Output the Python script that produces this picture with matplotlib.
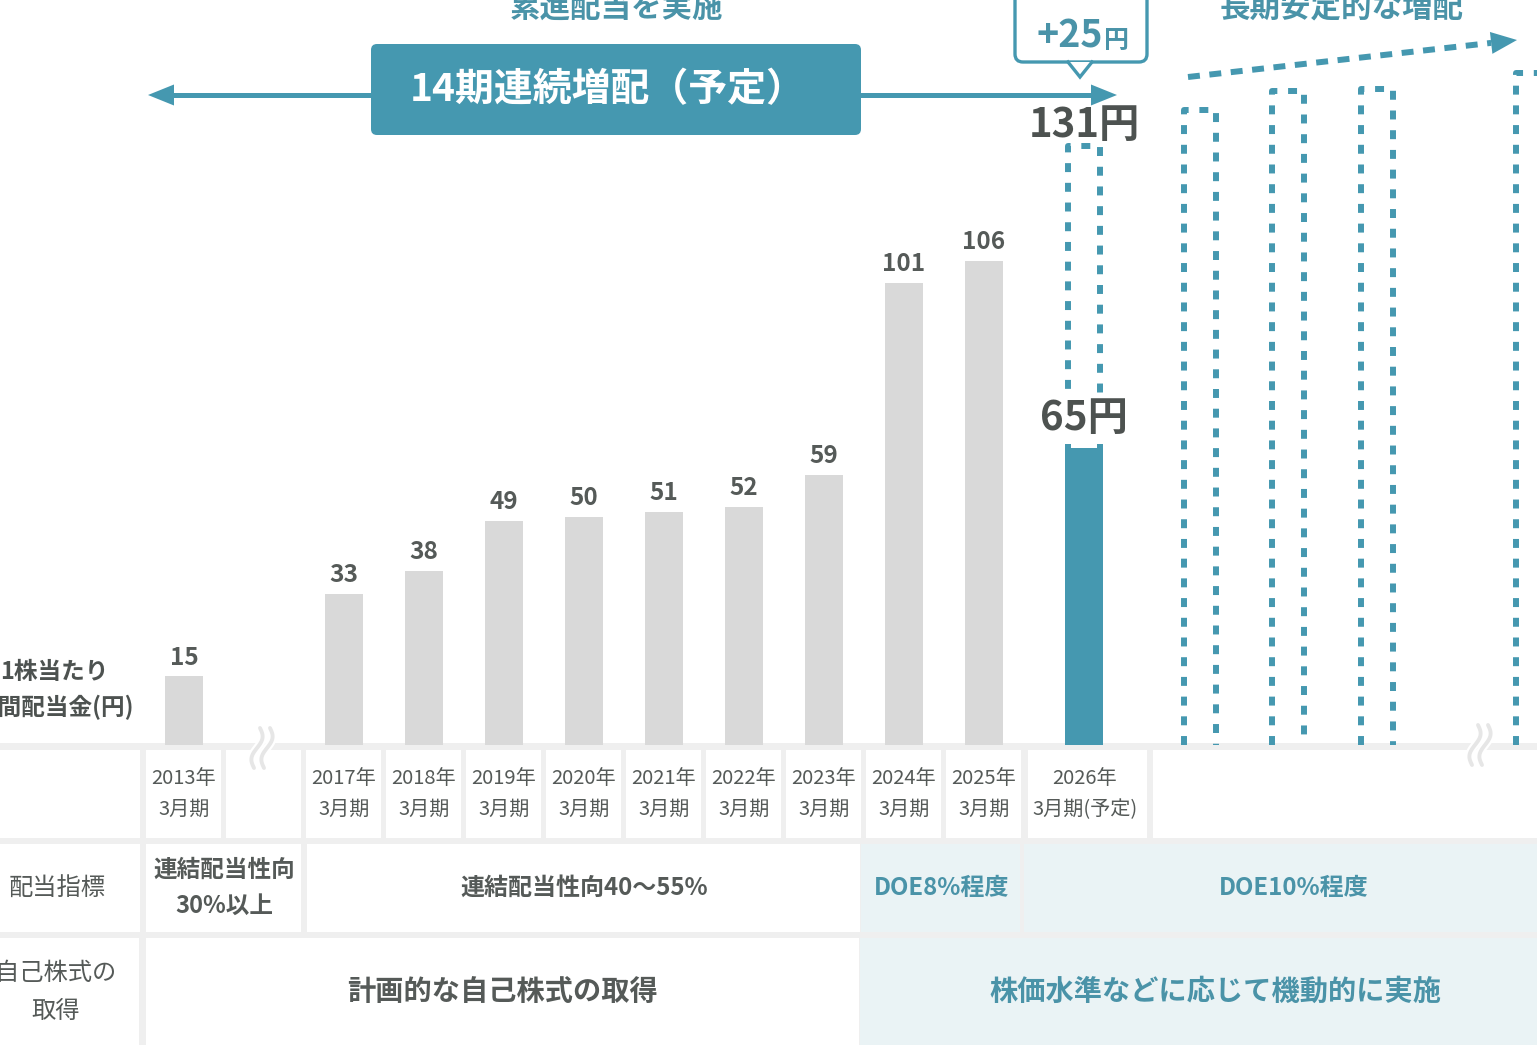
import numpy as np
import matplotlib.pyplot as plt
from matplotlib.patches import Rectangle, FancyBboxPatch, Polygon

plt.rcParams['font.family'] = ['Noto Sans CJK JP', 'DejaVu Sans']

# data
periods = ['2013年\n3月期', '2017年\n3月期', '2018年\n3月期', '2019年\n3月期', '2020年\n3月期',
           '2021年\n3月期', '2022年\n3月期', '2023年\n3月期', '2024年\n3月期', '2025年\n3月期']
dividends = [15, 33, 38, 49, 50, 51, 52, 59, 101, 106]
forecast_period = '2026年\n3月期(予定)'
forecast_paid = 65
forecast_total = 131
forecast_increase = 25
future_levels = [139, 143, 143.5, 147]

TEAL = '#4598b0'
TEAL_TXT = '#4a93a8'
GRAY_BAR = '#d9d9d9'
DARK = '#4d5250'
TXT = '#555a58'
LINE = '#efefef'
PALE = '#eaf3f5'

W, H = 1537, 1045
fig = plt.figure(figsize=(W / 100, H / 100), dpi=100)
bg = fig.add_axes([0, 0, 1, 1])
bg.set_xlim(0, W)
bg.set_ylim(H, 0)
bg.axis('off')

# bar axes: one slot = 80 px, 1 yen = 4.57 px, baseline at 745 px
SLOT, YEN, X0, BASE = 80, 4.57, 184, 745
ax = fig.add_axes([0, 0, 1, 1])
ax.set_xlim(-X0 / SLOT, (W - X0) / SLOT)
ax.set_ylim(-(H - BASE) / YEN, BASE / YEN)
ax.axis('off')
ax.patch.set_alpha(0)

x_hist = [0] + list(range(2, 11))
x_fc = 11.25
x_future = [12.7, 13.8, 14.91, 16.85]


def px(slot):
    return X0 + SLOT * slot


# ---- table ----
bg.add_patch(Rectangle((0, 743), W, H - 743, color=LINE, lw=0))


def cell(x0, x1, y0, y1, fc='white'):
    bg.add_patch(Rectangle((x0, y0), x1 - x0, y1 - y0, color=fc, lw=0))


r1, r2, r3 = (750, 838), (844, 932), (938, 1050)
cell(0, 140, *r1)
for s in [0, 1] + list(range(2, 11)):
    cell(px(s) - 38, px(s) + 37, *r1)
cell(1028, 1147, *r1)
cell(1153, W, *r1)
for s, lab in zip(x_hist, periods):
    bg.text(px(s), 794, lab, ha='center', va='center', fontsize=14.5, color=TXT, linespacing=1.6)
bg.text(1085, 794, forecast_period, ha='center', va='center', fontsize=14.5, color=TXT, linespacing=1.6)

cell(0, 140, *r2)
cell(146, 301, *r2)
cell(307, 860, *r2)
cell(861, 1020, *r2, fc=PALE)
cell(1024, W, *r2, fc=PALE)
bg.text(57, 888, '配当指標', ha='center', va='center', fontsize=17.5, color=TXT)
bg.text(224, 888, '連結配当性向\n30%以上', ha='center', va='center', fontsize=17,
        fontweight='bold', color=TXT, linespacing=1.65)
bg.text(584, 888, '連結配当性向40〜55%', ha='center', va='center', fontsize=17.3,
        fontweight='bold', color=TXT)
bg.text(942, 888, 'DOE8%程度', ha='center', va='center', fontsize=17.3,
        fontweight='bold', color=TEAL_TXT)
bg.text(1294, 888, 'DOE10%程度', ha='center', va='center', fontsize=17.3,
        fontweight='bold', color=TEAL_TXT)

cell(0, 139, *r3)
cell(146, 859, *r3)
cell(860, W, *r3, fc=PALE)
bg.text(56, 992, '自己株式の\n取得', ha='center', va='center', fontsize=17.5, color=TXT,
        linespacing=1.55)
bg.text(502, 992, '計画的な自己株式の取得', ha='center', va='center', fontsize=20.3,
        fontweight='bold', color=TXT)
bg.text(1215, 992, '株価水準などに応じて機動的に実施', ha='center', va='center', fontsize=20.3,
        fontweight='bold', color=TEAL_TXT)

# left axis caption
bg.text(54, 690, '1株当たり\n年間配当金(円)', ha='center', va='center', fontsize=17,
        fontweight='bold', color=DARK, linespacing=1.5)

# break marks
t = np.linspace(0, 1, 60)
for cx, cy in [(262, 748), (1480, 745)]:
    for dx in (-5, 5):
        xs = cx + dx + 4 * np.sin(t * 2 * np.pi) - 6 * (t - 0.5)
        ys = cy - 20 + 40 * t
        bg.plot(xs, ys, color='white', lw=6, solid_capstyle='round', zorder=5)
        bg.plot(xs, ys, color='#e6e6e6', lw=2.8, solid_capstyle='round', zorder=6)

# ---- top decorations ----
bg.plot([165, 1100], [95, 95], color=TEAL, lw=3.6, solid_capstyle='butt')
bg.add_patch(Polygon([(148, 95), (174, 84.5), (174, 105.5)], color=TEAL, lw=0))
bg.add_patch(Polygon([(1117, 95), (1091, 84.5), (1091, 105.5)], color=TEAL, lw=0))
bg.add_patch(FancyBboxPatch((371, 44), 490, 91, boxstyle='round,pad=0,rounding_size=6',
                            fc=TEAL, ec='none', zorder=3))
bg.text(608, 90, '14期連続増配（予定）', ha='center', va='center', fontsize=28,
        fontweight='bold', color='white', zorder=4)
bg.text(616, 17, '累進配当を実施', ha='center', va='baseline', fontsize=22,
        fontweight='bold', color=TEAL_TXT)
bg.text(1342, 17, '長期安定的な増配', ha='center', va='baseline', fontsize=22,
        fontweight='bold', color=TEAL_TXT)

# callout +25円
bg.add_patch(FancyBboxPatch((1015, -12), 132, 74, boxstyle='round,pad=0,rounding_size=8',
                            fc='white', ec=TEAL, lw=2.4, zorder=3))
tail = [(1068, 62), (1080, 77), (1092, 62)]
bg.add_patch(Polygon(tail, fc='white', ec='none', zorder=4))
bg.plot(*zip(*tail), color=TEAL, lw=2.4, zorder=5, solid_joinstyle='miter')
bg.text(1103, 48, f'+{forecast_increase}', ha='right', va='baseline', fontsize=27,
        fontweight='bold', color=TEAL_TXT, zorder=6)
bg.text(1104, 48, '円', ha='left', va='baseline', fontsize=18,
        fontweight='bold', color=TEAL_TXT, zorder=6)

# dashed trend arrow
p0, p1 = np.array([1188, 77]), np.array([1517, 40])
u = (p1 - p0) / np.linalg.norm(p1 - p0)
n = np.array([-u[1], u[0]])
base = p1 - 26 * u
bg.plot([p0[0], base[0]], [p0[1], base[1]], color=TEAL, lw=4.3, ls=(0, (2.0, 1.6)))
bg.add_patch(Polygon([p1, base + 11 * n, base - 11 * n], color=TEAL, lw=0))

# ---- bars ----
dash = dict(color=TEAL, lw=4.3, ls=(0, (1.5, 1.8)))
ax.bar(x_hist, dividends, width=0.475, color=GRAY_BAR, zorder=3)
for x, v in zip(x_hist, dividends):
    ax.annotate(str(v), (x, v), xytext=(0, 5), textcoords='offset points', ha='center',
                va='bottom', fontsize=17.5, fontweight='bold', color=TXT)

ax.bar(x_fc, forecast_paid, width=0.475, color=TEAL, zorder=3)
hw = 0.2
ax.plot([x_fc - hw, x_fc - hw, x_fc + hw, x_fc + hw],
        [forecast_paid, forecast_total, forecast_total, forecast_paid], zorder=1, **dash)
ax.annotate(f'{forecast_paid}円', (x_fc, forecast_paid), xytext=(0, 21), textcoords='offset points',
            ha='center', va='center', fontsize=29, fontweight='bold', color=DARK, zorder=2,
            bbox=dict(boxstyle='square,pad=0.12', fc='white', ec='none'))
ax.annotate(f'{forecast_total}円', (x_fc, forecast_total), xytext=(0, 15), textcoords='offset points',
            ha='center', va='center', fontsize=29, fontweight='bold', color=DARK, zorder=2)

for x, v in zip(x_future, future_levels):
    ax.plot([x - hw, x - hw, x + hw, x + hw], [0, v, v, 0], zorder=1, **dash)

fig.savefig('out.png', dpi=100)
